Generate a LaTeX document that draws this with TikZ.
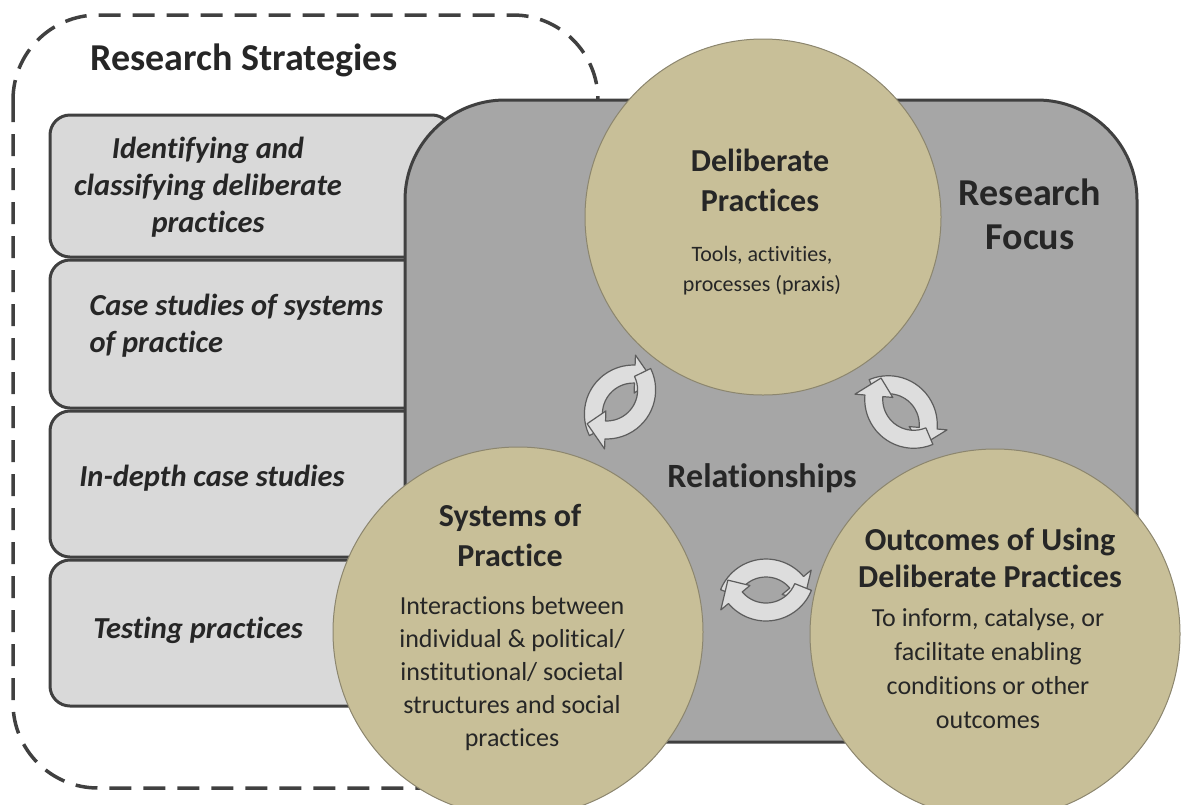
\documentclass[tikz,border=0pt]{standalone}
\usepackage{fontspec}
\setmainfont[Ligatures=NoCommon]{Carlito}
\usetikzlibrary{arrows.meta,shapes,calc,positioning}

\definecolor{khaki}{RGB}{200,191,152}
\definecolor{khakiline}{RGB}{140,134,110}
\definecolor{focusgray}{RGB}{166,166,166}
\definecolor{boxgray}{RGB}{217,217,217}
\definecolor{edgegray}{RGB}{64,64,64}
\definecolor{ink}{RGB}{38,38,38}

\begin{document}
\begin{tikzpicture}[x=1pt,y=1pt]
  % Define styles
  \tikzset{
    stratbox/.style={fill=boxgray, draw=edgegray, line width=3pt, rounded corners=20pt},
    focusbox/.style={fill=focusgray, draw=edgegray, line width=3pt, rounded corners=100pt},
    practice/.style={circle, fill=khaki, draw=khakiline, line width=1pt, inner sep=0pt},
    cycarrow/.style={fill=boxgray!90!white, draw=edgegray!85, line width=1.2pt, line join=round},
    heading/.style={text=ink, font=\fontsize{38}{44}\selectfont\bfseries, align=center},
    strat/.style={text=ink, font=\fontsize{30.5}{37}\selectfont\bfseries\itshape, align=center},
    circtitle/.style={text=ink, font=\fontsize{32}{40}\selectfont\bfseries, align=center},
    circbody/.style={text=ink, align=center},
    % two curved arrows chasing each other
    cyc/.pic={
      \foreach \r in {0,180}
        \draw[cycarrow, rotate=\r, shift={(0,-18)}]
          (158:49) arc[start angle=158, end angle=40, radius=49] -- (40:59) -- (12:39)
          -- (40:21) -- (40:31) arc[start angle=40, end angle=158, radius=31] -- cycle;
    }
  }
  \useasboundingbox (0,0) rectangle (1182,-804);

  % Dashed frame around the strategies
  \draw[edgegray, line width=3.5pt, dash pattern=on 22pt off 12pt, rounded corners=85pt]
    (13,-15) rectangle (598,-788);

  % Strategy boxes
  \foreach \ytop/\ybot in {115/257, 260/408, 411/557, 560/706}
    \draw[stratbox] (50,-\ytop) rectangle (452,-\ybot);

  % Research focus panel
  \draw[focusbox] (405,-100) rectangle (1137,-742);

  % Practice circles
  \node[practice, minimum size=356pt] (delib) at (763,-217) {};
  \node[practice, minimum size=370pt] (systems) at (518,-632) {};
  \node[practice, minimum size=370pt] (outcomes) at (995,-634) {};

  % Cycle arrows between circles
  \pic[rotate=48] at (620,-402) {cyc};
  \pic[rotate=-45] at (901,-412) {cyc};
  \pic at (766,-590) {cyc};

  % Label strategies
  \node[heading] (strathead) at (244,-60) {Research Strategies};
  \node[strat] (idclass) at (208,-187) {Identifying and\\classifying deliberate\\practices};
  \node[strat, align=left, anchor=west] (casesys) at (86,-326) {Case studies of systems\\of practice};
  \node[strat] (indepth) at (212,-478) {In-depth case studies};
  \node[strat] (testing) at (198,-630) {Testing practices};

  % Label focus
  \node[heading] (focus) at (1030,-214) {Research\\Focus};
  \node[heading, font=\fontsize{34}{40}\selectfont\bfseries] (relations) at (762,-478) {Relationships};

  % Label circles
  \node[circtitle] (delibT) at (760,-180) {Deliberate\\Practices};
  \node[circbody, font=\fontsize{22}{30}\selectfont] (delibB) at (762,-271) {Tools, activities,\\processes (praxis)};
  \node[circtitle] (systemsT) at (510,-535) {Systems of\\Practice};
  \node[circbody, font=\fontsize{26}{33}\selectfont] (systemsB) at (512,-674)
    {Interactions between\\individual \& political/\\institutional/ societal\\structures and social\\practices};
  \node[circtitle, font=\fontsize{32}{37}\selectfont\bfseries] (outcomesT) at (990,-558) {Outcomes of Using\\Deliberate Practices};
  \node[circbody, font=\fontsize{26}{34}\selectfont] (outcomesB) at (988,-669)
    {To inform, catalyse, or\\facilitate enabling\\conditions or other\\outcomes};
\end{tikzpicture}
\end{document}
